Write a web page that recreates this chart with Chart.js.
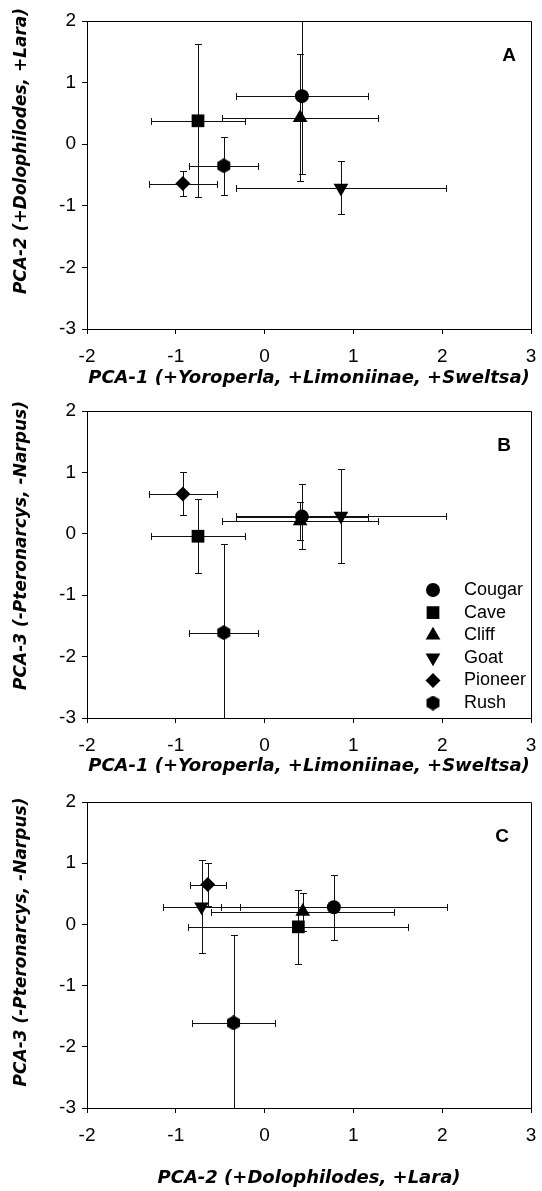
<!DOCTYPE html>
<html>
<head>
<meta charset="utf-8">
<script src="https://cdn.jsdelivr.net/npm/chart.js@4"></script>
<style>
  html, body { margin: 0; padding: 0; background: #fff; }
  body { width: 542px; height: 1191px; position: relative; overflow: hidden; }
  .panel { position: absolute; left: 0; width: 542px; }
</style>
</head>
<body>
<div class="panel" style="top:0;height:392px"><canvas id="chart-a" width="542" height="392"></canvas></div>
<div class="panel" style="top:392px;height:392px"><canvas id="chart-b" width="542" height="392"></canvas></div>
<div class="panel" style="top:784px;height:407px"><canvas id="chart-c" width="542" height="407"></canvas></div>
<script>
// Site means and error bar half-widths on each PCA axis
const sites = ['Cougar', 'Cave', 'Cliff', 'Goat', 'Pioneer', 'Rush'];
const pca1 = [0.42, -0.75, 0.40, 0.86, -0.92, -0.46];
const pca1Err = [0.74, 0.53, 0.88, 1.18, 0.38, 0.39];
const pca2 = [0.78, 0.38, 0.43, -0.71, -0.64, -0.35];
const pca2Err = [1.27, 1.24, 1.03, 0.43, 0.20, 0.47];
const pca3 = [0.28, -0.04, 0.21, 0.29, 0.65, -1.61];
const pca3Err = [0.53, 0.60, 0.31, 0.76, 0.35, 1.44];

const xTicks = [-2, -1, 0, 1, 2, 3];
const yTicks = [-3, -2, -1, 0, 1, 2];

const titles = {
    pca1: 'PCA-1 (+Yoroperla, +Limoniinae, +Sweltsa)',
    pca2: 'PCA-2 (+Dolophilodes, +Lara)',
    pca3: 'PCA-3 (-Pteronarcys, -Narpus)'
};

const TICK_FONT = { family: "'Liberation Sans', Arial, sans-serif", size: 19 };
const Y_TITLE_FONT = "bold oblique 17px 'DejaVu Sans', sans-serif";

// hexagon marker for Rush (no built-in style for it)
function makeHexagon(size) {
    const c = document.createElement('canvas');
    c.width = size; c.height = size;
    const g = c.getContext('2d');
    const r = size / 2;
    g.beginPath();
    for (let i = 0; i < 6; i++) {
        const a = Math.PI / 6 + i * Math.PI / 3;
        const px = r + Math.cos(a) * r, py = r + Math.sin(a) * r;
        if (i === 0) g.moveTo(px, py); else g.lineTo(px, py);
    }
    g.closePath();
    g.fillStyle = '#000';
    g.fill();
    return c;
}

const markers = [
    { pointStyle: 'circle', radius: 7, rotation: 0 },
    { pointStyle: 'rect', radius: 9, rotation: 0 },
    { pointStyle: 'triangle', radius: 8.5, rotation: 0 },
    { pointStyle: 'triangle', radius: 8.5, rotation: 180 },
    { pointStyle: 'rectRot', radius: 7.5, rotation: 0 },
    { pointStyle: makeHexagon(15), radius: 7.5, rotation: 0 }
];

const errorBars = {
    id: 'errorBars',
    beforeDatasetsDraw(chart) {
        const { ctx, chartArea: a } = chart;
        const xs = chart.scales.x, ys = chart.scales.y;
        const cap = 3.5;
        ctx.save();
        ctx.beginPath();
        ctx.rect(a.left, a.top, a.right - a.left, a.bottom - a.top);
        ctx.clip();
        ctx.strokeStyle = '#111';
        ctx.lineWidth = 1;
        chart.data.datasets.forEach(ds => {
            ds.data.forEach(p => {
                const px = Math.round(xs.getPixelForValue(p.x)) + 0.5;
                const py = Math.round(ys.getPixelForValue(p.y)) + 0.5;
                const x0 = Math.round(xs.getPixelForValue(p.x - p.xErr)) + 0.5;
                const x1 = Math.round(xs.getPixelForValue(p.x + p.xErr)) + 0.5;
                const y0 = Math.round(ys.getPixelForValue(p.y - p.yErr)) + 0.5;
                const y1 = Math.round(ys.getPixelForValue(p.y + p.yErr)) + 0.5;
                ctx.beginPath();
                ctx.moveTo(x0, py); ctx.lineTo(x1, py);
                ctx.moveTo(x0, py - cap); ctx.lineTo(x0, py + cap);
                ctx.moveTo(x1, py - cap); ctx.lineTo(x1, py + cap);
                ctx.moveTo(px, y0); ctx.lineTo(px, y1);
                ctx.moveTo(px - cap, y0); ctx.lineTo(px + cap, y0);
                ctx.moveTo(px - cap, y1); ctx.lineTo(px + cap, y1);
                ctx.stroke();
            });
        });
        ctx.restore();
    }
};

// top/right frame, panel letter, rotated y title, optional legend
const panelDecor = {
    id: 'panelDecor',
    afterDraw(chart, args, opts) {
        const { ctx, chartArea: a } = chart;
        ctx.save();
        ctx.strokeStyle = '#000';
        ctx.lineWidth = 1;
        ctx.beginPath();
        ctx.moveTo(Math.round(a.left) + 0.5, Math.round(a.top) + 0.5);
        ctx.lineTo(Math.round(a.right) + 0.5, Math.round(a.top) + 0.5);
        ctx.lineTo(Math.round(a.right) + 0.5, Math.round(a.bottom) + 0.5);
        ctx.stroke();

        ctx.fillStyle = '#000';
        ctx.font = "bold 19px 'Liberation Sans', Arial, sans-serif";
        ctx.textAlign = 'center';
        ctx.textBaseline = 'middle';
        ctx.fillText(opts.letter, a.right - opts.letterDx, a.top + 35);

        ctx.font = Y_TITLE_FONT;
        ctx.translate(22, (a.top + a.bottom) / 2 + opts.yTitleShift);
        ctx.rotate(-Math.PI / 2);
        ctx.fillText(opts.yTitle, 0, 0);
        ctx.restore();

        if (opts.legend) {
            ctx.save();
            ctx.fillStyle = '#000';
            ctx.strokeStyle = '#000';
            ctx.font = "18px 'Liberation Sans', Arial, sans-serif";
            ctx.textAlign = 'left';
            ctx.textBaseline = 'middle';
            chart.data.datasets.forEach((ds, i) => {
                const y = a.top + 179 + i * 22.6;
                Chart.helpers.drawPoint(ctx, {
                    pointStyle: ds.pointStyle,
                    rotation: ds.rotation,
                    radius: ds.pointRadius,
                    borderWidth: 0
                }, a.right - 98, y);
                ctx.fillText(ds.label, a.right - 67, y);
            });
            ctx.restore();
        }
    }
};

function buildDatasets(xv, xe, yv, ye) {
    return sites.map((s, i) => ({
        label: s,
        data: [{ x: xv[i], y: yv[i], xErr: xe[i], yErr: ye[i] }],
        pointStyle: markers[i].pointStyle,
        pointRadius: markers[i].radius,
        rotation: markers[i].rotation,
        backgroundColor: '#000',
        borderColor: '#000',
        borderWidth: 0
    }));
}

function axis(values, title, pad, extra) {
    return Object.assign({
        type: 'linear',
        min: values[0],
        max: values[values.length - 1],
        afterBuildTicks: sc => { sc.ticks = values.map(v => ({ value: v })); },
        ticks: { color: '#000', font: TICK_FONT, padding: pad, callback: v => String(v) },
        grid: { display: true, drawOnChartArea: false, drawTicks: true, tickLength: 5, color: '#000' },
        border: { display: true, color: '#000', width: 1 },
        title: title
    }, extra);
}

function makeChart(id, cfg) {
    return new Chart(document.getElementById(id), {
        type: 'scatter',
        data: { datasets: buildDatasets(cfg.xv, cfg.xe, cfg.yv, cfg.ye) },
        options: {
            responsive: false,
            devicePixelRatio: 1,
            animation: false,
            layout: { padding: { top: cfg.top, right: 11, left: 0, bottom: 0 } },
            scales: {
                x: axis(xTicks, {
                    display: true, text: cfg.xTitle, color: '#000',
                    font: { family: "'DejaVu Sans', sans-serif", size: 18, weight: 'bold', style: 'oblique' },
                    padding: { top: 0, bottom: cfg.xPadBottom }
                }, 11, {
                    position: 'bottom',
                    afterFit: sc => {
                        sc.height = cfg.xHeight;
                        // keep the plot edge fixed; label overhang fits in the page margin
                        sc.paddingLeft = 0;
                        sc.paddingRight = 0;
                    }
                }),
                y: axis(yTicks, { display: false }, 6, {
                    position: 'left',
                    afterFit: sc => { sc.width = 87; }
                })
            },
            plugins: {
                legend: { display: false },
                tooltip: { enabled: false },
                panelDecor: {
                    letter: cfg.letter, letterDx: cfg.letterDx,
                    yTitle: cfg.yTitle, yTitleShift: cfg.yShift,
                    legend: !!cfg.legend
                }
            }
        },
        plugins: [errorBars, panelDecor]
    });
}

makeChart('chart-a', {
    xv: pca1, xe: pca1Err, yv: pca2, ye: pca2Err,
    xTitle: titles.pca1, yTitle: titles.pca2,
    top: 21, xHeight: 63, xPadBottom: 3,
    letter: 'A', letterDx: 22, yShift: -24
});
makeChart('chart-b', {
    xv: pca1, xe: pca1Err, yv: pca3, ye: pca3Err,
    xTitle: titles.pca1, yTitle: titles.pca3,
    top: 19, xHeight: 66, xPadBottom: 7,
    letter: 'B', letterDx: 27, yShift: -19, legend: true
});
makeChart('chart-c', {
    xv: pca2, xe: pca2Err, yv: pca3, ye: pca3Err,
    xTitle: titles.pca2, yTitle: titles.pca3,
    top: 18, xHeight: 83, xPadBottom: 2,
    letter: 'C', letterDx: 29, yShift: -13
});
</script>
</body>
</html>
